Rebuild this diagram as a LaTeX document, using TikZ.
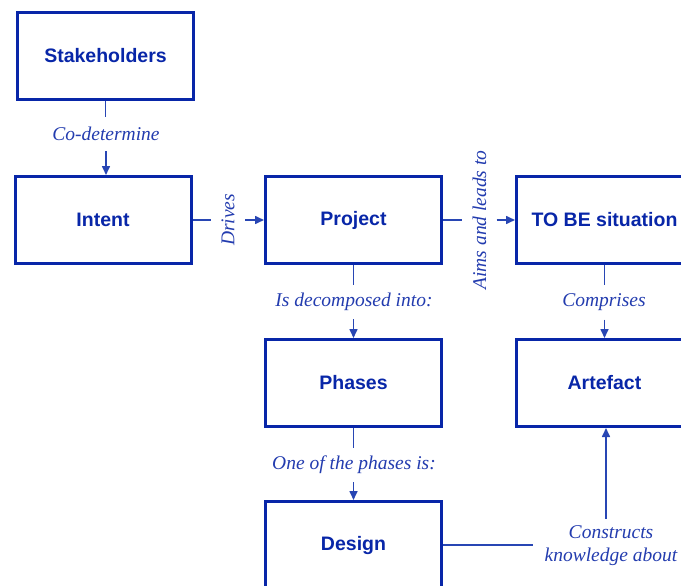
\documentclass[tikz,border=0pt]{standalone}
\usepackage{fontspec}
\setmainfont{Liberation Serif}
\newfontfamily\boxfont{Liberation Sans}
\usetikzlibrary{arrows.meta}
\definecolor{boxblue}{RGB}{8,38,168}
\definecolor{lineblue}{RGB}{40,70,180}
\definecolor{labblue}{RGB}{35,60,175}
\begin{document}
\begin{tikzpicture}[x=1pt,y=-1pt,
  box/.style={draw=boxblue,line width=3pt,fill=white,inner sep=0pt,
    minimum width=176pt,minimum height=87pt,
    font=\boxfont\bfseries\fontsize{19.5}{23}\selectfont,text=boxblue},
  lab/.style={fill=white,inner xsep=8pt,inner ysep=6pt,minimum height=34pt,
    font=\itshape\fontsize{19.5}{23}\selectfont,text=labblue},
  conn/.style={draw=lineblue,line width=1.6pt},
  arr/.style={conn,-{Triangle[length=9pt,width=8pt]}}]
\useasboundingbox (0,0) rectangle (681,586);
\clip (0,0) rectangle (681,586);
\fill[white] (0,0) rectangle (681,586);
% boxes
\node[box] (stake) at (105.5,56) {Stakeholders};
\node[box] (intent) at (103,220) {Intent};
\node[box] (project) at (353.5,220) {Project};
\node[box] (tobe) at (604.5,220) {TO BE situation};
\node[box] (phases) at (353.5,383) {Phases};
\node[box] (artefact) at (604.5,383) {Artefact};
\node[box] (design) at (353.5,545) {Design};
% labels
\node[lab] (cod) at (106,134) {Co-determine};
\node[lab,rotate=90] (drives) at (228,220) {Drives};
\node[lab,rotate=90] (aims) at (479.5,220) {Aims and leads to};
\node[lab] (decomp) at (354,302) {Is decomposed into:};
\node[lab] (compr) at (604,302.5) {Comprises};
\node[lab] (oneof) at (354,465) {One of the phases is:};
\node[lab,align=center,inner xsep=11pt,inner ysep=7pt] (constr) at (611,546) {Constructs\\knowledge about};
% connectors
\draw[conn] (cod.north -| stake.south) -- (stake.south);
\draw[arr] (cod.south) -- (cod.south |- intent.north);
\draw[conn] (intent.east) -- (drives);
\draw[arr] (drives) -- (project.west);
\draw[conn] (project.east) -- (aims);
\draw[arr] (aims) -- (tobe.west);
\draw[conn] (project.south) -- (decomp.north -| project.south);
\draw[arr] (decomp.south -| project.south) -- (phases.north);
\draw[conn] (tobe.south) -- (compr.north -| tobe.south);
\draw[arr] (compr.south -| tobe.south) -- (artefact.north);
\draw[conn] (phases.south) -- (oneof.north -| phases.south);
\draw[arr] (oneof.south -| phases.south) -- (design.north);
\draw[conn] (design.east) -- (constr.west |- design.east);
\coordinate (ctop) at ([xshift=-5pt]constr.north);
\draw[arr] (ctop) -- (ctop |- artefact.south);
\end{tikzpicture}
\end{document}
